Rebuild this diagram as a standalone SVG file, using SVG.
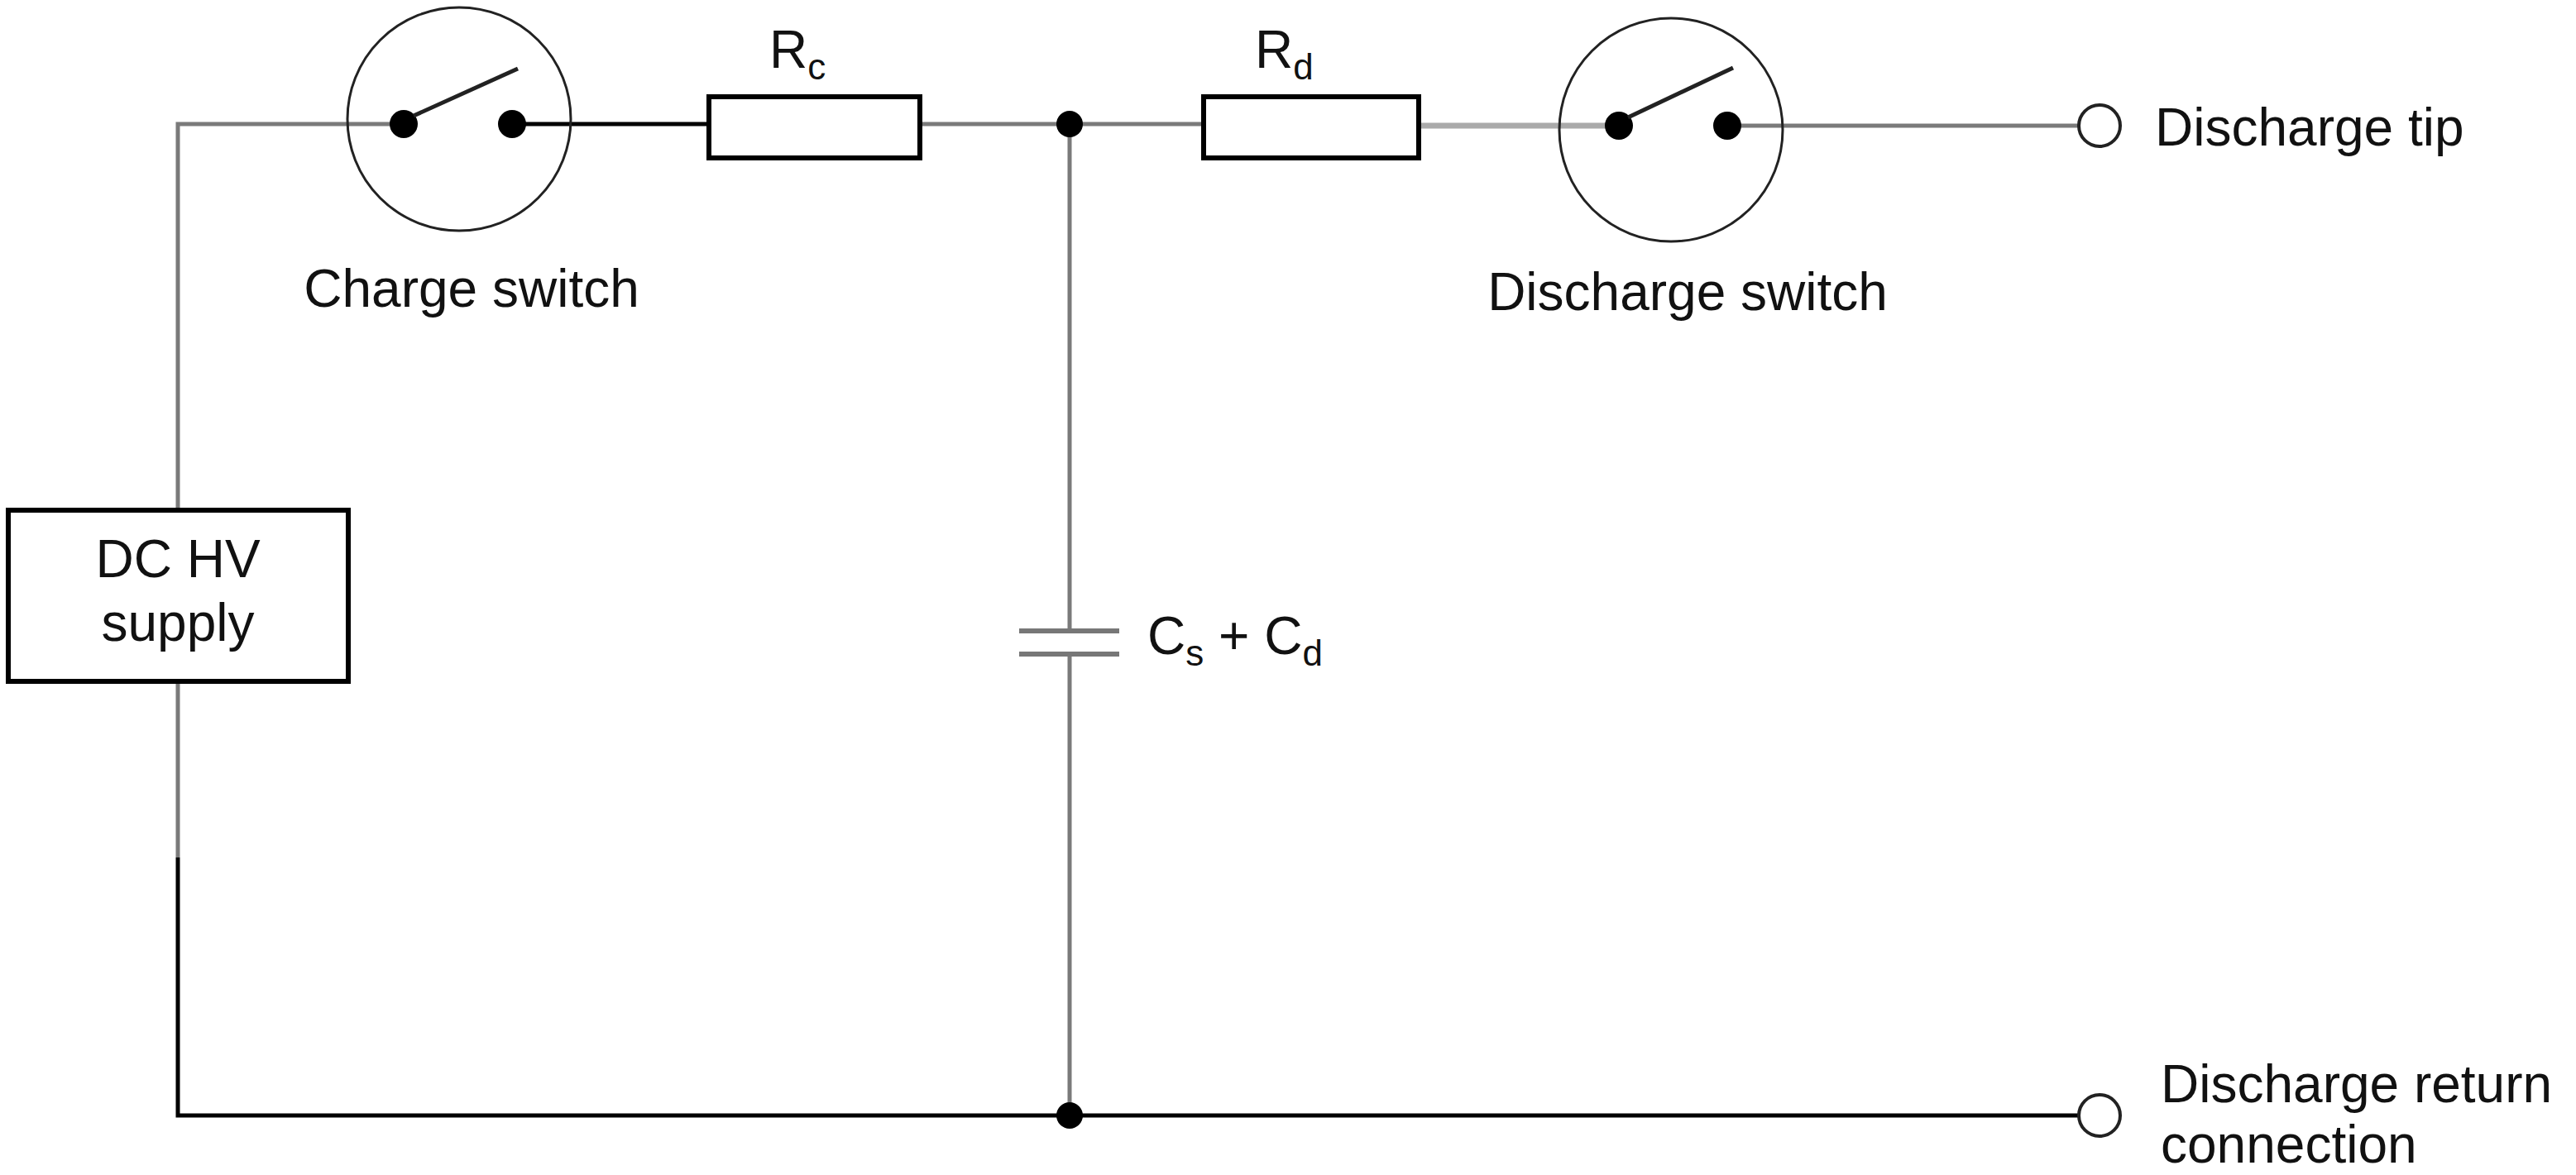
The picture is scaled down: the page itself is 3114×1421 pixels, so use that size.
<svg xmlns="http://www.w3.org/2000/svg" width="3114" height="1421" viewBox="0 0 3114 1421">
<style>
.t{font-family:"Liberation Sans",Arial,sans-serif;font-size:64px;fill:#111}
.s{font-size:44px}
.k{stroke:#000;stroke-width:5;fill:none}
.g{stroke:#7a7a7a;stroke-width:5;fill:none}
.lg{stroke:#aaa;stroke-width:7;fill:none}
.b{fill:#fff;stroke:#000;stroke-width:6}
.ring{fill:none;stroke:#222;stroke-width:3}
</style>
<rect width="3114" height="1421" fill="#fff"/>
<g id="connectors">
<path class="g" d="M488 150 H215 V617"/>
<path class="g" d="M215 824 V1037"/>
<path class="k" d="M215 1037 V1349 H2512"/>
<path class="k" d="M619 150 H857"/>
<path class="g" d="M1112 150 H1455"/>
<path class="g" d="M1293 150 V763"/>
<path class="g" d="M1293 791 V1349"/>
<path class="lg" d="M1715 152 H1957"/>
<path class="g" d="M2088 152 H2512"/>
</g>
<g id="charge-switch">
<circle class="ring" cx="555" cy="144" r="135"/>
<circle cx="488" cy="150" r="17"/>
<circle cx="619" cy="150" r="17"/>
<line x1="500" y1="140" x2="626" y2="83" stroke="#222" stroke-width="5"/>
<text class="t" x="570" y="371" text-anchor="middle">Charge switch</text>
</g>
<g id="rc">
<rect class="b" x="857" y="117" width="255" height="74"/>
<text class="t" x="930" y="82">R<tspan class="s" dy="14">c</tspan></text>
</g>
<g id="junction-top"><circle cx="1293" cy="150" r="16"/></g>
<g id="rd">
<rect class="b" x="1455" y="117" width="260" height="74"/>
<text class="t" x="1517" y="82">R<tspan class="s" dy="14">d</tspan></text>
</g>
<g id="discharge-switch">
<circle class="ring" cx="2020" cy="157" r="135"/>
<circle cx="1957" cy="152" r="17"/>
<circle cx="2088" cy="152" r="17"/>
<line x1="1968" y1="142" x2="2095" y2="82" stroke="#222" stroke-width="5"/>
<text class="t" x="2040" y="375" text-anchor="middle">Discharge switch</text>
</g>
<g id="tip">
<circle cx="2538" cy="152" r="25" fill="#fff" stroke="#222" stroke-width="4"/>
<text class="t" x="2605" y="176">Discharge tip</text>
</g>
<g id="supply">
<rect class="b" x="10" y="617" width="411" height="207"/>
<text class="t" x="215" y="698" text-anchor="middle">DC HV</text>
<text class="t" x="215" y="775" text-anchor="middle">supply</text>
</g>
<g id="capacitor">
<line x1="1232" y1="763" x2="1353" y2="763" stroke="#777" stroke-width="6"/>
<line x1="1232" y1="791" x2="1353" y2="791" stroke="#777" stroke-width="6"/>
<text class="t" x="1387" y="791">C<tspan class="s" dy="14">s</tspan><tspan dy="-14"> + C</tspan><tspan class="s" dy="14">d</tspan></text>
</g>
<g id="junction-bottom"><circle cx="1293" cy="1349" r="16"/></g>
<g id="return">
<circle cx="2538" cy="1349" r="25" fill="#fff" stroke="#222" stroke-width="4"/>
<text class="t" x="2612" y="1333">Discharge return</text>
<text class="t" x="2612" y="1406">connection</text>
</g>
</svg>
